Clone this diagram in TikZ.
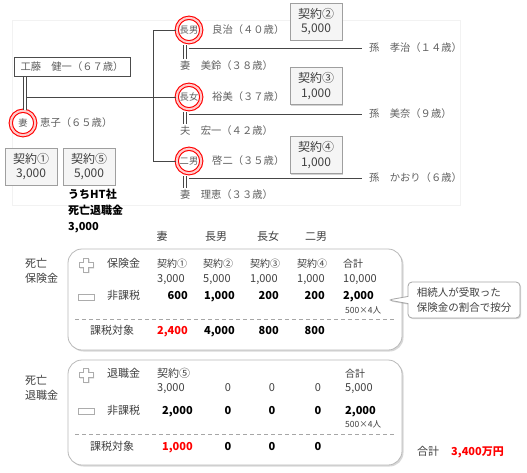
\documentclass[tikz,border=0pt]{standalone}
\usepackage{fontspec}
\setmainfont{Noto Sans CJK JP}
\usetikzlibrary{shadows,shapes.callouts,calc}
\newcommand{\myfs}[1]{\fontsize{#1}{#1}\selectfont}
\definecolor{treegray}{HTML}{606060}
\definecolor{txt}{HTML}{404040}
\definecolor{myred}{HTML}{FF0000}
\begin{document}
\begin{tikzpicture}[x=1pt,y=-1pt,
  tt/.style={font=\myfs{10.3}, text=treegray, inner sep=0, text height=8.5pt, text depth=1.5pt},
  kbox/.style={draw=gray!75, fill=gray!8, drop shadow={opacity=0.35,shadow xshift=1.2pt,shadow yshift=-1.2pt}, minimum width=52pt, minimum height=37pt, align=center, font=\fontsize{12}{14.5}\selectfont, text=txt, inner sep=1pt},
  ring/.style={circle, draw=red, line width=1.1pt, double=red!20, double distance=2.1pt, minimum size=24.5pt, inner sep=0, font=\myfs{9.3}, text=treegray},
  dline/.style={draw=gray!55!black, double=white, double distance=2pt, line width=0.6pt},
  sline/.style={draw=gray!55!black, line width=0.7pt},
  bigbox/.style={draw=gray!55, line width=0.8pt, rounded corners=14pt, fill=white, drop shadow={opacity=0.3,shadow xshift=1.5pt,shadow yshift=-1.5pt}},
  lab/.style={font=\fontsize{11}{15}\selectfont, text=txt, inner sep=0, align=left},
  fixh/.style={inner sep=0, text height=8.5pt, text depth=1.5pt},
  rg/.style={font=\myfs{11}, text=txt, fixh},
  sm/.style={font=\myfs{10}, text=txt, fixh},
  bd/.style={font=\bfseries\myfs{11}, text=black, fixh},
  rd/.style={font=\bfseries\myfs{11}, text=myred, fixh},
  tiny/.style={font=\myfs{8.5}, text=txt, fixh},
  plusicon/.pic={\draw[gray!65, fill=white, line width=0.8pt, drop shadow={opacity=0.3,shadow xshift=1pt,shadow yshift=-1pt}] (-2.5,-7) -- (2.5,-7) -- (2.5,-2.5) -- (7,-2.5) -- (7,2.5) -- (2.5,2.5) -- (2.5,7) -- (-2.5,7) -- (-2.5,2.5) -- (-7,2.5) -- (-7,-2.5) -- (-2.5,-2.5) -- cycle;},
  minusicon/.pic={\draw[gray!65, fill=white, line width=0.8pt, drop shadow={opacity=0.3,shadow xshift=1pt,shadow yshift=-1pt}] (-8,-3) rectangle (8,3);}
]
\useasboundingbox (0,0) rectangle (527,472);
\fill[white] (0,0) rectangle (527,472);
% faint tree background
\draw[black!5] (12,20) rectangle (460,205);

% ---------- family tree ----------
\node[draw=gray!60!black, fill=white, line width=0.7pt, minimum width=116pt, minimum height=19pt, font=\myfs{10.3}, text=treegray, inner sep=0] (ken) at (72,67) {工藤　健一（６７歳）};
\node[ring] (w) at (23,123) {妻};
\node[tt, anchor=west] (wt) at (40,123) {恵子（６５歳）};
\coordinate (kd) at (25,76.5);
\coordinate (j) at (27,97);
\draw[dline] (kd) -- (kd |- w.north);
\node[ring] (c1) at (189,30) {長男};
\node[ring] (c2) at (189,97) {長女};
\node[ring] (c3) at (189,161) {二男};
\coordinate (tr) at (153,0);
\draw[sline] (j) -- (c2.west);
\draw[sline] (c1.west) -- (c1.west -| tr) -- (c3.west -| tr) -- (c3.west);

\node[tt, anchor=west] (n1) at (212,30) {良治（４０歳）};
\node[tt, anchor=west] (n2) at (212,97) {裕美（３７歳）};
\node[tt, anchor=west] (n3) at (212,161) {啓二（３５歳）};
\node[tt, anchor=west] (s1) at (180,66) {妻　美鈴（３８歳）};
\node[tt, anchor=west] (s2) at (180,131) {夫　宏一（４２歳）};
\node[tt, anchor=west] (s3) at (180,195) {妻　理恵（３３歳）};
\node[tt, anchor=west] (g1) at (369,48) {孫　孝治（１４歳）};
\node[tt, anchor=west] (g2) at (369,114) {孫　美奈（９歳）};
\node[tt, anchor=west] (g3) at (369,178) {孫　かおり（６歳）};
\foreach \c/\s/\g in {c1/s1/g1, c2/s2/g2, c3/s3/g3}{
  \draw[dline] ($(\c.south)+(-4,2)$) -- ($(\s.north west)+(5,-2)$);
  \draw[sline] (\c.south |- \g.west) -- ($(\g.west)+(-7,0)$);
}

\node[kbox] (k2) at (316,21.5) {契約②\\5,000};
\node[kbox] (k3) at (316,86) {契約③\\1,000};
\node[kbox] (k4) at (316,155) {契約④\\1,000};
\node[kbox] (k1) at (31,166.5) {契約①\\3,000};
\node[kbox] (k5) at (89,166.5) {契約⑤\\5,000};
\node[font=\bfseries\fontsize{11}{16}\selectfont, anchor=north west, align=left, inner sep=0] (ht) at (68,189) {うちHT社\\死亡退職金\\3,000};

% ---------- headers ----------
\node[rg] (h1) at (162,237) {妻};
\node[rg] (h2) at (216,237) {長男};
\node[rg] (h3) at (268,237) {長女};
\node[rg] (h4) at (316,237) {二男};

% ---------- box 1 ----------
\node[bigbox, minimum width=334pt, minimum height=101pt] (b1) at (235,299.5) {};
\node[lab, anchor=west] (l1) at (25,271) {死亡\\保険金};
\pic at (86,265) {plusicon};
\pic at (86,297) {minusicon};
\node[rg, anchor=west] (r11) at (107,264) {保険金};
\node[rg, anchor=west] (r12) at (107,296) {非課税};
\node[sm, anchor=west] at (157,264) {契約①};
\node[sm, anchor=west] at (203,264) {契約②};
\node[sm, anchor=west] at (250,264) {契約③};
\node[sm, anchor=west] at (297,264) {契約④};
\node[sm, anchor=west] at (343,264) {合計};
\node[rg, anchor=west] at (157,279) {3,000};
\node[rg, anchor=west] at (203,279) {5,000};
\node[rg, anchor=west] at (250,279) {1,000};
\node[rg, anchor=west] at (297,279) {1,000};
\node[rg, anchor=west] at (343,279) {10,000};
\node[bd, anchor=east] at (188,296) {600};
\node[bd, anchor=east] at (235,296) {1,000};
\node[bd, anchor=east] at (279,296) {200};
\node[bd, anchor=east] at (325,296) {200};
\node[bd, anchor=west] (t1) at (343,296) {2,000};
\node[tiny, anchor=west] at (345,309.5) {500×4人};
\draw[gray!70, line width=0.8pt, dash pattern=on 4pt off 3pt] (75,319) -- (396,319);
\node[rg] at (112,331) {課税対象};
\node[rd, anchor=east] at (188,331) {2,400};
\node[bd, anchor=east] at (235,331) {4,000};
\node[bd, anchor=east] at (279,331) {800};
\node[bd, anchor=east] at (325,331) {800};

% callout
\coordinate (tip) at (388,300);
\node[rectangle callout, callout absolute pointer={(tip)}, draw=gray!70, fill=white, line width=0.8pt, rounded corners=4pt, drop shadow={opacity=0.3,shadow xshift=1.2pt,shadow yshift=-1.2pt}, minimum width=112pt, minimum height=36pt, align=left, font=\fontsize{10.5}{15}\selectfont, text=txt, inner sep=2pt] (co) at (464,300) {相続人が受取った\\保険金の割合で按分};

% ---------- box 2 ----------
\node[bigbox, minimum width=334pt, minimum height=105pt] (b2) at (235,412.5) {};
\node[lab, anchor=west] (l2) at (25,388) {死亡\\退職金};
\pic at (86,375) {plusicon};
\pic at (86,411) {minusicon};
\node[rg, anchor=west] (r21) at (107,374) {退職金};
\node[rg, anchor=west] (r22) at (107,411) {非課税};
\node[rg, anchor=west] at (157,374) {契約⑤};
\node[sm, anchor=west] at (345,374) {合計};
\node[rg, anchor=west] at (157,388) {3,000};
\node[rg] at (228,388) {0};
\node[rg] at (272,388) {0};
\node[rg] at (318,388) {0};
\node[rg, anchor=west] at (345,388) {5,000};
\node[bd, anchor=east] at (193,411) {2,000};
\node[bd] at (228,411) {0};
\node[bd] at (272,411) {0};
\node[bd] at (318,411) {0};
\node[bd, anchor=west] at (345,411) {2,000};
\node[tiny, anchor=west] at (345,424) {500×4人};
\draw[gray!70, line width=0.8pt, dash pattern=on 4pt off 3pt] (75,434) -- (396,434);
\node[rg] at (112,447) {課税対象};
\node[rd, anchor=east] at (193,447) {1,000};
\node[bd] at (228,447) {0};
\node[bd] at (272,447) {0};
\node[bd] at (318,447) {0};

\node[rg, anchor=west] (tot) at (417,452) {合計};
\node[rd, anchor=west] (totv) at (451,452) {3,400万円};
\end{tikzpicture}
\end{document}
